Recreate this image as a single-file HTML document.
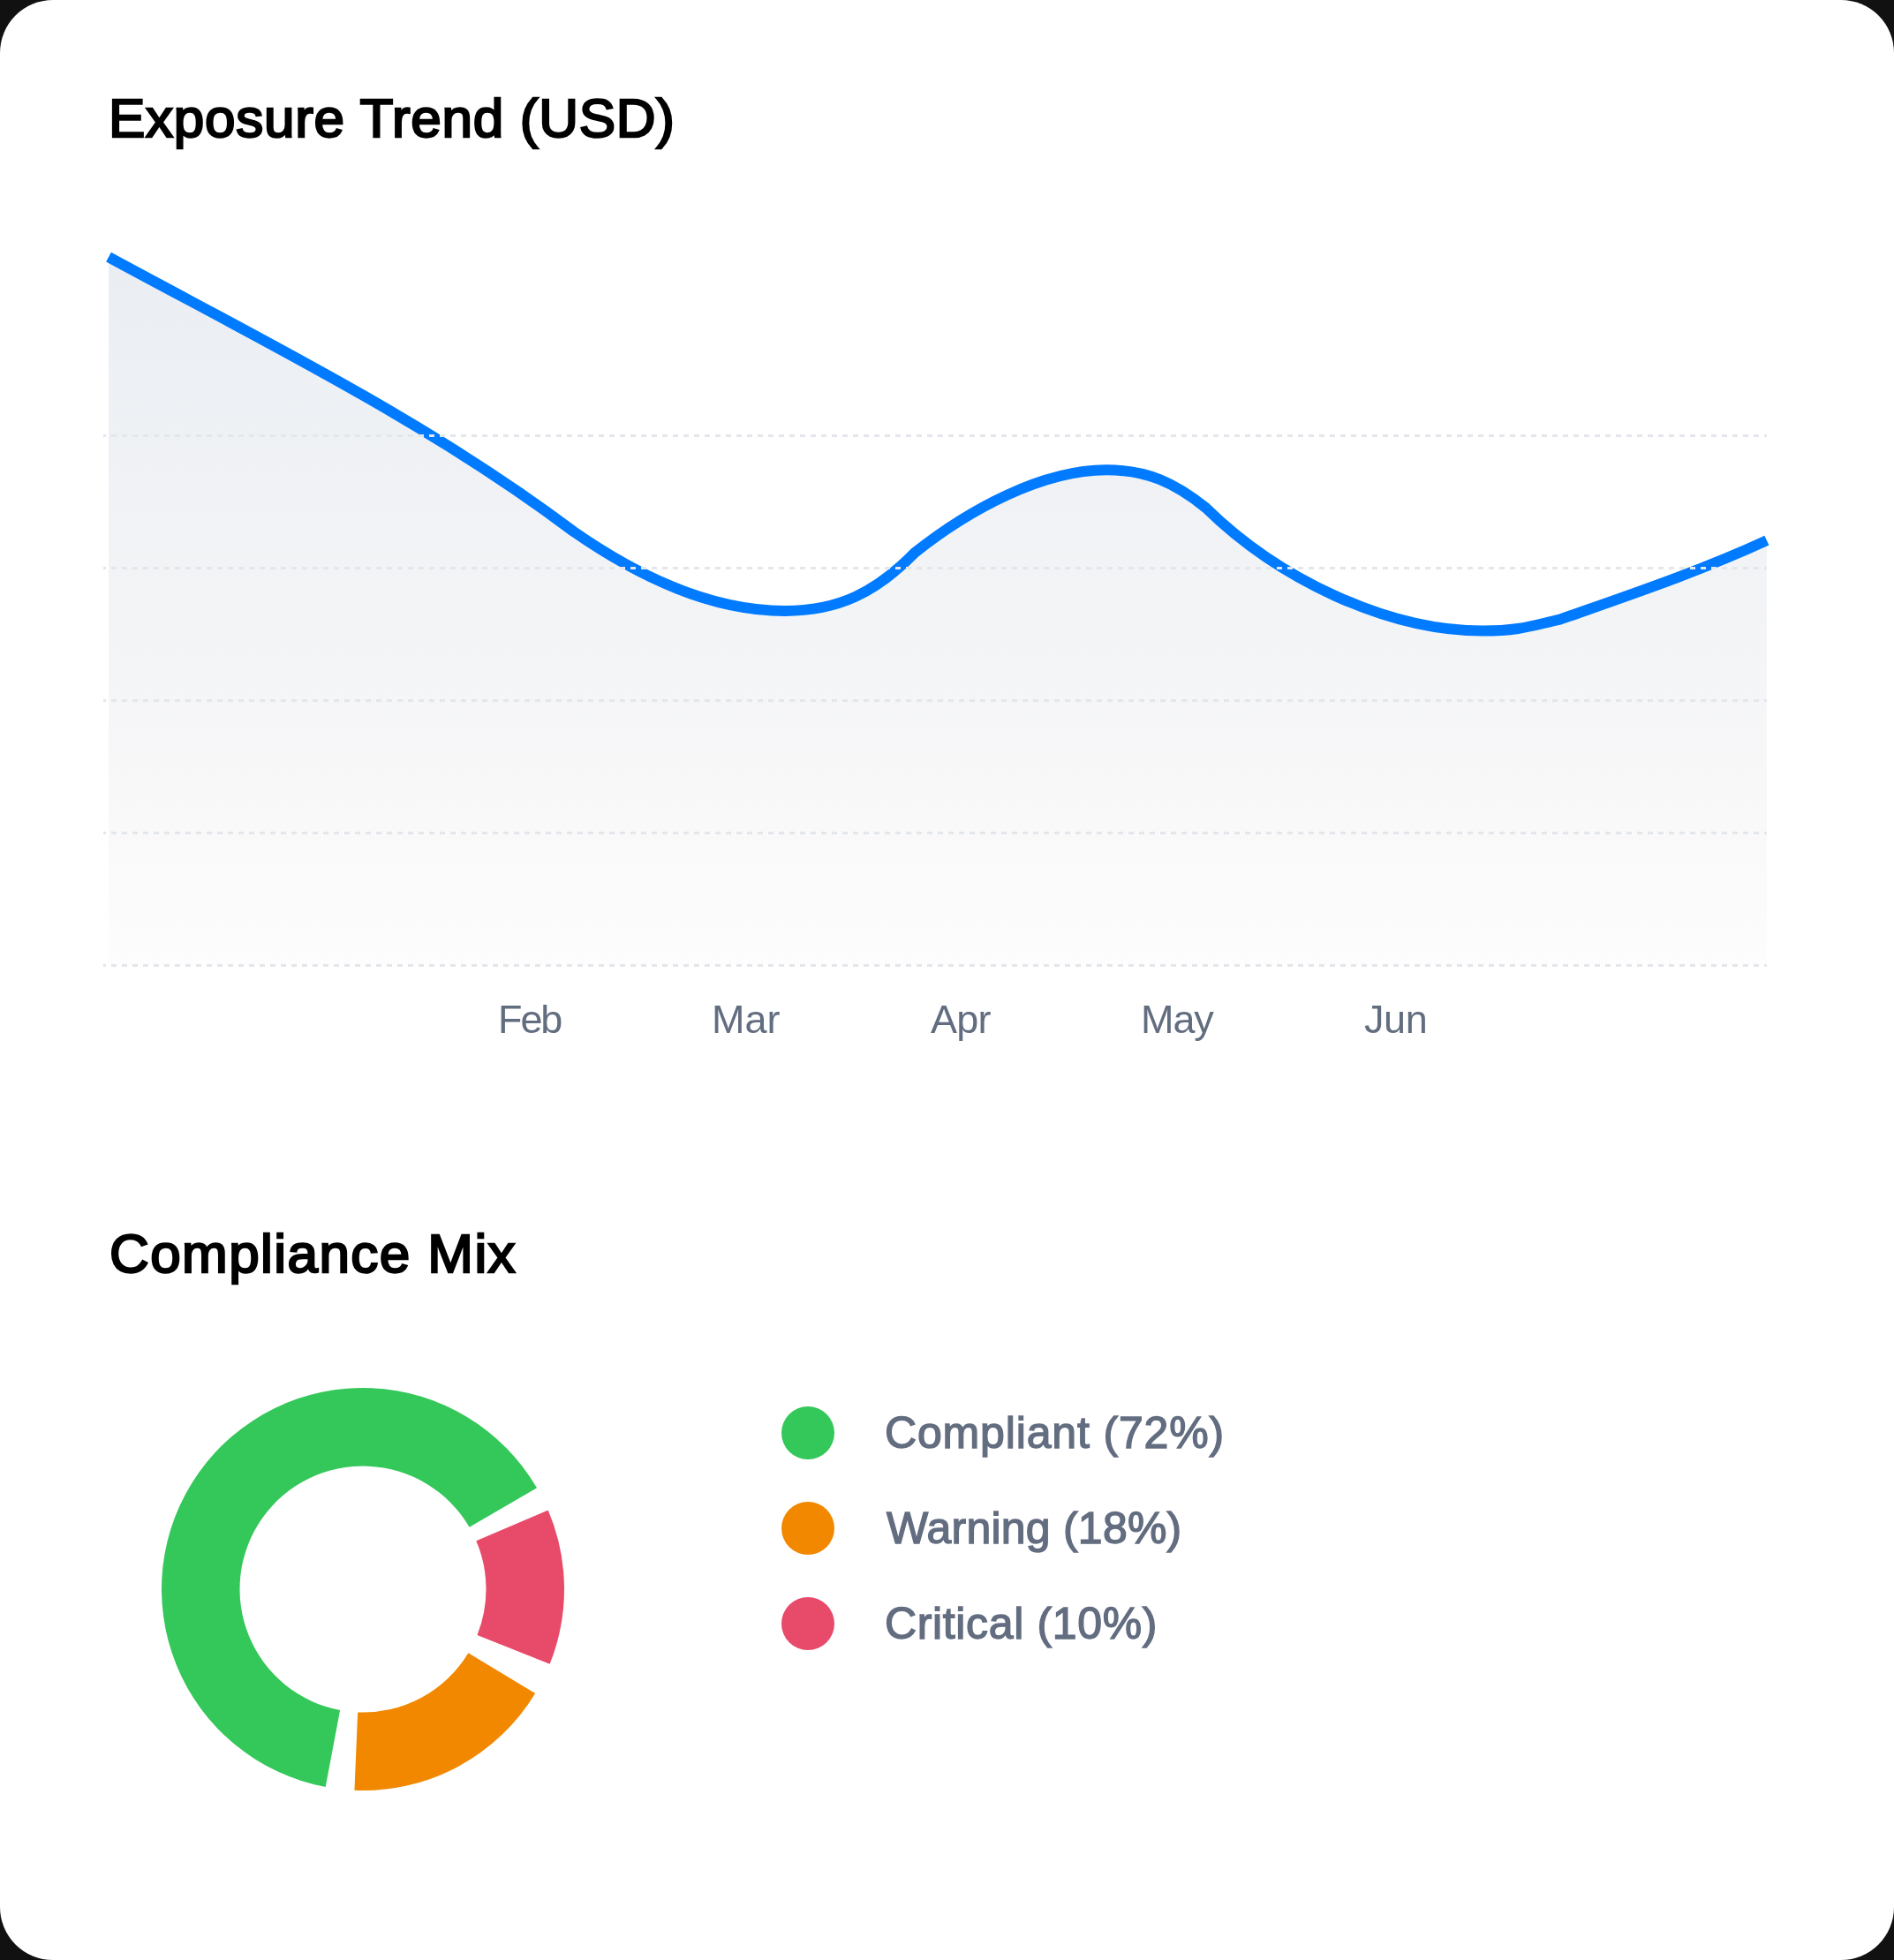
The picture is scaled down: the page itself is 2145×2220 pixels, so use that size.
<!DOCTYPE html>
<html>
<head>
<meta charset="utf-8">
<style>
html,body{margin:0;padding:0;}
body{width:2145px;height:2220px;background:#111;position:relative;overflow:hidden;font-family:"Liberation Sans",sans-serif;}
.card{position:absolute;left:0;top:0;width:2145px;height:2220px;background:#fff;border-radius:60px;}
.t{position:absolute;white-space:nowrap;line-height:1;will-change:transform;-webkit-font-smoothing:antialiased;}
h2.t{margin:0;font-weight:700;font-size:64px;color:#000;letter-spacing:-1.6px;}
.m{font-size:46px;color:#636d80;font-weight:400;}
.lg{font-size:51px;color:#636d80;font-weight:700;}
svg{position:absolute;left:0;top:0;}
</style>
</head>
<body>
<div class="card"></div>
<svg width="2145" height="2220" viewBox="0 0 2145 2220">
  <defs>
    <linearGradient id="ag" x1="0" y1="291" x2="0" y2="1093" gradientUnits="userSpaceOnUse">
      <stop offset="0" stop-color="rgb(234,238,243)"/>
      <stop offset="0.51" stop-color="rgb(243,244,246)"/>
      <stop offset="0.76" stop-color="rgb(248,248,249)"/>
      <stop offset="1" stop-color="rgb(253,253,253)"/>
    </linearGradient>
  </defs>
  <path id="area" fill="url(#ag)" d="M123.00,291.15 C305.16,389.80 486.37,479.14 649.40,601.90 C719.89,650.94 804.13,691.92 888.89,691.92 C949.44,691.92 992.04,670.99 1036.00,626.00 C1098.15,576.63 1180.79,532.29 1253.19,532.29 C1299.17,532.29 1330.06,546.59 1365.70,575.20 C1446.69,654.67 1569.79,714.61 1679.13,714.61 C1720.43,714.61 1735.20,708.71 1766.50,701.70 C1846.66,673.38 1924.25,647.40 2000.90,612.15 L2001,1093 L123,1093 Z"/>
  <path id="line" fill="none" stroke="#007aff" stroke-width="12" d="M123.00,291.15 C305.16,389.80 486.37,479.14 649.40,601.90 C719.89,650.94 804.13,691.92 888.89,691.92 C949.44,691.92 992.04,670.99 1036.00,626.00 C1098.15,576.63 1180.79,532.29 1253.19,532.29 C1299.17,532.29 1330.06,546.59 1365.70,575.20 C1446.69,654.67 1569.79,714.61 1679.13,714.61 C1720.43,714.61 1735.20,708.71 1766.50,701.70 C1846.66,673.38 1924.25,647.40 2000.90,612.15"/>
  <g stroke="#e3e6ea" stroke-width="3" stroke-dasharray="6 6" stroke-dashoffset="3">
    <line x1="117" y1="493.5" x2="2001" y2="493.5"/>
    <line x1="117" y1="643.5" x2="2001" y2="643.5"/>
    <line x1="117" y1="793.5" x2="2001" y2="793.5"/>
    <line x1="117" y1="943.5" x2="2001" y2="943.5"/>
    <line x1="117" y1="1093.5" x2="2001" y2="1093.5"/>
  </g>
</svg>
<h2 class="t" id="t1" style="left:123.0px;top:103.0px;letter-spacing:0.73px;font-size:62px;font-weight:400;-webkit-text-stroke:2.4px #000">Exposure Trend (USD)</h2>
<div class="t m" id="feb" style="left:563.6px;top:1132.0px;letter-spacing:-2.1px;font-size:45px;font-weight:400">Feb</div>
<div class="t m" id="mar" style="left:806.0px;top:1132.0px;letter-spacing:0.0px;font-size:45px;font-weight:400">Mar</div>
<div class="t m" id="apr" style="left:1054.3px;top:1132.0px;letter-spacing:-0.8px;font-size:45px;font-weight:400">Apr</div>
<div class="t m" id="may" style="left:1292.0px;top:1132.0px;letter-spacing:-1.1px;font-size:45px;font-weight:400">May</div>
<div class="t m" id="jun" style="left:1545.2px;top:1132.0px;letter-spacing:-0.45px;font-size:45px;font-weight:400">Jun</div>
<h2 class="t" id="t2" style="left:124.0px;top:1388.5px;letter-spacing:1.43px;font-size:62px;font-weight:400;-webkit-text-stroke:2.4px #000">Compliance Mix</h2>
<svg width="2145" height="2220" viewBox="0 0 2145 2220" style="pointer-events:none">
<g id="donut">
<path fill="#34c759" d="M608.05,1685.31 A228.0,228.0 0 1 0 368.67,2024.04 L385.10,1937.07 A139.5,139.5 0 1 1 531.57,1729.83 Z"/>
<path fill="#e84a6a" d="M620.72,1710.55 A228.0,228.0 0 0 1 622.62,1884.86 L540.48,1851.92 A139.5,139.5 0 0 0 539.32,1745.27 Z"/>
<path fill="#f18800" d="M606.13,1917.94 A228.0,228.0 0 0 1 401.45,2027.80 L405.16,1939.38 A139.5,139.5 0 0 0 530.39,1872.16 Z"/>
</g>
  <circle cx="915" cy="1623" r="30" fill="#34c759"/>
  <circle cx="915" cy="1731" r="30" fill="#f18800"/>
  <circle cx="915" cy="1839" r="30" fill="#e84a6a"/>
</svg>
<div class="t lg" id="l1" style="left:1002.4px;top:1598.0px;letter-spacing:0.84px;font-size:50px;font-weight:400;-webkit-text-stroke:1.4px #636d80">Compliant (72%)</div>
<div class="t lg" id="l2" style="left:1004.4px;top:1706.0px;letter-spacing:0.22px;font-size:50px;font-weight:400;-webkit-text-stroke:1.4px #636d80">Warning (18%)</div>
<div class="t lg" id="l3" style="left:1002.4px;top:1814.0px;letter-spacing:0.65px;font-size:50px;font-weight:400;-webkit-text-stroke:1.4px #636d80">Critical (10%)</div>
</body>
</html>
